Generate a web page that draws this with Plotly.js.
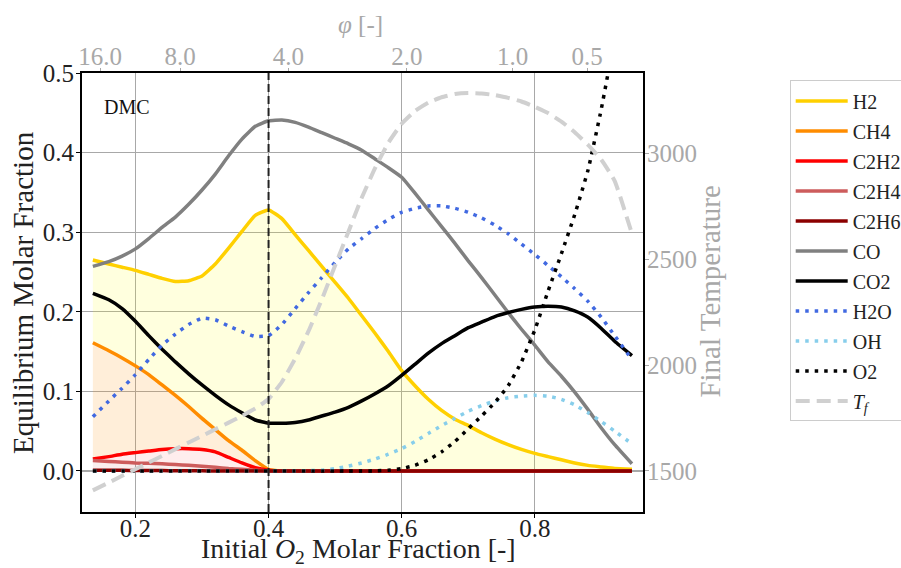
<!DOCTYPE html>
<html>
<head>
<meta charset="utf-8">
<script src="https://cdn.plot.ly/plotly-3.0.1.min.js"></script>
<style>
  html, body { margin: 0; padding: 0; background: #ffffff; }
  #chart { width: 901px; height: 568px; }
</style>
</head>
<body>
<div id="chart"></div>
<script>
// Initial O2 molar fraction (x)
const xO2 = [0.136,0.16,0.18,0.20,0.22,0.24,0.26,0.28,0.30,0.32,0.34,0.36,0.38,0.40,0.42,0.44,0.46,0.48,0.50,0.52,0.54,0.56,0.58,0.60,0.62,0.64,0.66,0.68,0.70,0.72,0.74,0.76,0.78,0.80,0.82,0.84,0.86,0.88,0.90,0.92,0.946];

// Equilibrium molar fractions
const H2   = [0.265,0.260,0.256,0.252,0.247,0.242,0.238,0.239,0.245,0.260,0.280,0.301,0.321,0.328,0.317,0.297,0.277,0.257,0.237,0.217,0.195,0.173,0.150,0.126,0.107,0.090,0.076,0.065,0.057,0.048,0.040,0.033,0.027,0.022,0.018,0.014,0.010,0.007,0.005,0.003,0.002];
const CH4  = [0.161,0.151,0.142,0.132,0.121,0.108,0.095,0.081,0.066,0.052,0.038,0.026,0.013,0.002,0,0,0,0,0,0,0,0,0,0,0,0,0,0,0,0,0,0,0,0,0,0,0,0,0,0,0];
const C2H2 = [0.015,0.018,0.021,0.023,0.025,0.027,0.028,0.028,0.027,0.024,0.017,0.010,0.004,0.001,0,0,0,0,0,0,0,0,0,0,0,0,0,0,0,0,0,0,0,0,0,0,0,0,0,0,0];
const C2H4 = [0.013,0.012,0.011,0.010,0.0095,0.009,0.008,0.007,0.006,0.0045,0.003,0.002,0.001,0,0,0,0,0,0,0,0,0,0,0,0,0,0,0,0,0,0,0,0,0,0,0,0,0,0,0,0];
const C2H6 = [0.001,0.001,0.0008,0.0006,0.0005,0.0004,0.0003,0.0002,0.0001,0,0,0,0,0,0,0,0,0,0,0,0,0,0,0,0,0,0,0,0,0,0,0,0,0,0,0,0,0,0,0,0];
const CO   = [0.257,0.263,0.270,0.279,0.292,0.306,0.319,0.335,0.353,0.373,0.396,0.417,0.433,0.440,0.441,0.438,0.432,0.425,0.418,0.411,0.403,0.392,0.381,0.369,0.349,0.328,0.307,0.286,0.264,0.243,0.221,0.199,0.178,0.158,0.137,0.119,0.099,0.077,0.054,0.033,0.009];
const CO2  = [0.223,0.215,0.204,0.188,0.170,0.153,0.137,0.122,0.108,0.095,0.083,0.073,0.064,0.060,0.060,0.061,0.064,0.069,0.074,0.080,0.088,0.097,0.107,0.120,0.134,0.148,0.160,0.170,0.180,0.187,0.194,0.199,0.203,0.206,0.207,0.206,0.201,0.193,0.179,0.163,0.145];
const H2O  = [0.068,0.088,0.104,0.121,0.140,0.158,0.172,0.184,0.192,0.190,0.182,0.175,0.169,0.170,0.184,0.204,0.224,0.243,0.262,0.279,0.292,0.305,0.316,0.325,0.330,0.333,0.333,0.330,0.325,0.318,0.309,0.298,0.285,0.272,0.258,0.244,0.229,0.213,0.193,0.170,0.140];
const OH   = [0,0,0,0,0,0,0,0,0,0,0,0,0,0,0,0,0.0005,0.001,0.003,0.006,0.010,0.015,0.021,0.028,0.037,0.047,0.057,0.066,0.075,0.082,0.088,0.092,0.094,0.095,0.094,0.090,0.083,0.073,0.062,0.050,0.034];
const O2   = [0,0,0,0,0,0,0,0,0,0,0,0,0,0,0,0,0,0,0,0,0,0,0.001,0.003,0.007,0.014,0.024,0.037,0.053,0.069,0.086,0.107,0.137,0.177,0.226,0.273,0.322,0.378,0.455,0.545,0.68];
// Final temperature (right axis)
const Tf   = [1408,1445,1477,1508,1540,1571,1603,1634,1665,1697,1728,1760,1795,1840,1920,2030,2160,2310,2470,2630,2790,2930,3050,3140,3200,3240,3265,3280,3285,3283,3275,3262,3245,3220,3190,3150,3100,3040,2970,2870,2620];

// Axis ticks
const yTicks = [0, 0.1, 0.2, 0.3, 0.4, 0.5];
const xTicks = [0.2, 0.4, 0.6, 0.8];
const tTicks = [1500, 2000, 2500, 3000];
const phiPos = [0.1468, 0.2670, 0.4299, 0.6078, 0.7666, 0.8785];
const phiLabels = ['16.0', '8.0', '4.0', '2.0', '1.0', '0.5'];
const markerX = 0.4;

const FONT = "'Liberation Serif', 'Times New Roman', serif";
const GRAYTXT = '#a8a8a8';
const DARK = '#222222';
const GRID = '#a8a8a8';

function fillTrace(y, color, mode) {
  return { x: xO2, y: y, mode: 'none', fill: mode, fillcolor: color,
           line: { shape: 'spline', smoothing: 0.4 }, showlegend: false, hoverinfo: 'skip' };
}
function lineTrace(name, y, color, dash, width) {
  return { x: xO2, y: y, name: name, mode: 'lines', legendgroup: name,
           line: { color: color, width: width || 3.5, dash: dash || 'solid', shape: 'spline', smoothing: 0.4 } };
}

const traces = [
  // stacked shaded regions (each between a curve and the one below it)
  fillTrace(C2H4, 'rgba(205,92,92,0.10)', 'tozeroy'),
  fillTrace(C2H2, 'rgba(255,0,0,0.07)', 'tonexty'),
  fillTrace(CH4, 'rgba(255,140,0,0.15)', 'tonexty'),
  fillTrace(H2, 'rgba(255,255,0,0.13)', 'tonexty'),
  lineTrace('H2', H2, '#ffd000'),
  lineTrace('CH4', CH4, '#ff8c00'),
  lineTrace('C2H2', C2H2, '#ff0000'),
  lineTrace('C2H4', C2H4, '#cd5c5c'),
  lineTrace('C2H6', C2H6, '#8b0000'),
  lineTrace('CO', CO, '#808080'),
  lineTrace('CO2', CO2, '#000000'),
  lineTrace('H2O', H2O, '#4169e1', '3.5px,6px'),
  lineTrace('OH', OH, '#87ceeb', '3.5px,6px'),
  lineTrace('O2', O2, '#000000', '3.5px,6px'),
  { x: xO2, y: Tf, name: '<i>T<sub>f</sub></i>', mode: 'lines', yaxis: 'y2', legendgroup: 'Tf',
    line: { color: '#d0d0d0', width: 4, dash: '14px,7px', shape: 'spline', smoothing: 0.4 } },
  { x: [], y: [], xaxis: 'x2', showlegend: false, hoverinfo: 'skip' }
];

const layout = {
  width: 901, height: 568,
  margin: { l: 82, r: 258, t: 73, b: 56, autoexpand: false },
  paper_bgcolor: '#ffffff', plot_bgcolor: '#ffffff',
  font: { family: FONT, size: 25, color: DARK },
  showlegend: true,
  xaxis: {
    range: [0.1197, 0.9626], tickvals: xTicks, tickformat: '.1f',
    showgrid: true, gridcolor: GRID, gridwidth: 1.2, zeroline: false,
    showline: true, linecolor: '#000000', linewidth: 2,
    ticks: 'outside', ticklen: 4, tickcolor: '#000000', ticklabelstandoff: -11,
    tickfont: { family: FONT, size: 25, color: DARK }
  },
  xaxis2: {
    overlaying: 'x', side: 'top', anchor: 'y', range: [0.1197, 0.9626],
    tickvals: phiPos, ticktext: phiLabels,
    showgrid: false, zeroline: false,
    showline: true, linecolor: '#000000', linewidth: 2,
    ticks: 'outside', ticklen: 3, tickcolor: '#a8a8a8', ticklabelstandoff: -7,
    tickfont: { family: FONT, size: 25, color: GRAYTXT }
  },
  yaxis: {
    range: [-0.0516, 0.5], tickvals: yTicks, tickformat: '.1f',
    showgrid: true, gridcolor: GRID, gridwidth: 1.2, zeroline: false,
    showline: true, linecolor: '#000000', linewidth: 2,
    ticks: 'outside', ticklen: 4, tickcolor: '#000000', ticklabelstandoff: -3,
    tickfont: { family: FONT, size: 25, color: DARK }
  },
  yaxis2: {
    overlaying: 'y', side: 'right', anchor: 'x', range: [1306, 3379.5], tickvals: tTicks,
    showgrid: false, zeroline: false,
    showline: true, linecolor: '#000000', linewidth: 2,
    ticks: 'outside', ticklen: 4, tickcolor: '#a8a8a8', ticklabelstandoff: -7,
    tickfont: { family: FONT, size: 25, color: GRAYTXT }
  },
  shapes: [
    { type: 'line', xref: 'x', yref: 'paper', x0: markerX, x1: markerX, y0: 0, y1: 1,
      line: { color: '#222222', width: 2, dash: '8px,4px' }, layer: 'above' }
  ],
  annotations: [
    { text: 'DMC', xref: 'paper', yref: 'paper', x: 0.035, y: 0.9226, xanchor: 'left', yanchor: 'middle',
      showarrow: false, font: { family: FONT, size: 20, color: '#111111' } },
    { text: 'Initial <i>O</i><sub>2</sub> Molar Fraction [-]', xref: 'paper', yref: 'paper',
      x: 0.492, y: -0.088, xanchor: 'center', yanchor: 'middle', showarrow: false,
      font: { family: FONT, size: 28, color: DARK } },
    { text: 'Equilibrium Molar Fraction', xref: 'paper', yref: 'paper', textangle: -90,
      x: -0.1052, y: 0.501, xanchor: 'center', yanchor: 'middle', showarrow: false,
      font: { family: FONT, size: 29, color: DARK } },
    { text: 'Final Temperature', xref: 'paper', yref: 'paper', textangle: -90,
      x: 1.1194, y: 0.502, xanchor: 'center', yanchor: 'middle', showarrow: false,
      font: { family: FONT, size: 29, color: GRAYTXT } },
    { text: '<i>φ</i> [-]', xref: 'paper', yref: 'paper',
      x: 0.4973, y: 1.1116, xanchor: 'center', yanchor: 'middle', showarrow: false,
      font: { family: FONT, size: 25, color: GRAYTXT } }
  ],
  legend: {
    x: 1.2615, y: 0.983, xanchor: 'left', yanchor: 'top',
    bgcolor: '#ffffff', bordercolor: '#cccccc', borderwidth: 1,
    font: { family: FONT, size: 20, color: DARK },
    itemwidth: 52, tracegroupgap: 1
  }
};

Plotly.newPlot('chart', traces, layout, { displayModeBar: false, staticPlot: true });
</script>
</body>
</html>
